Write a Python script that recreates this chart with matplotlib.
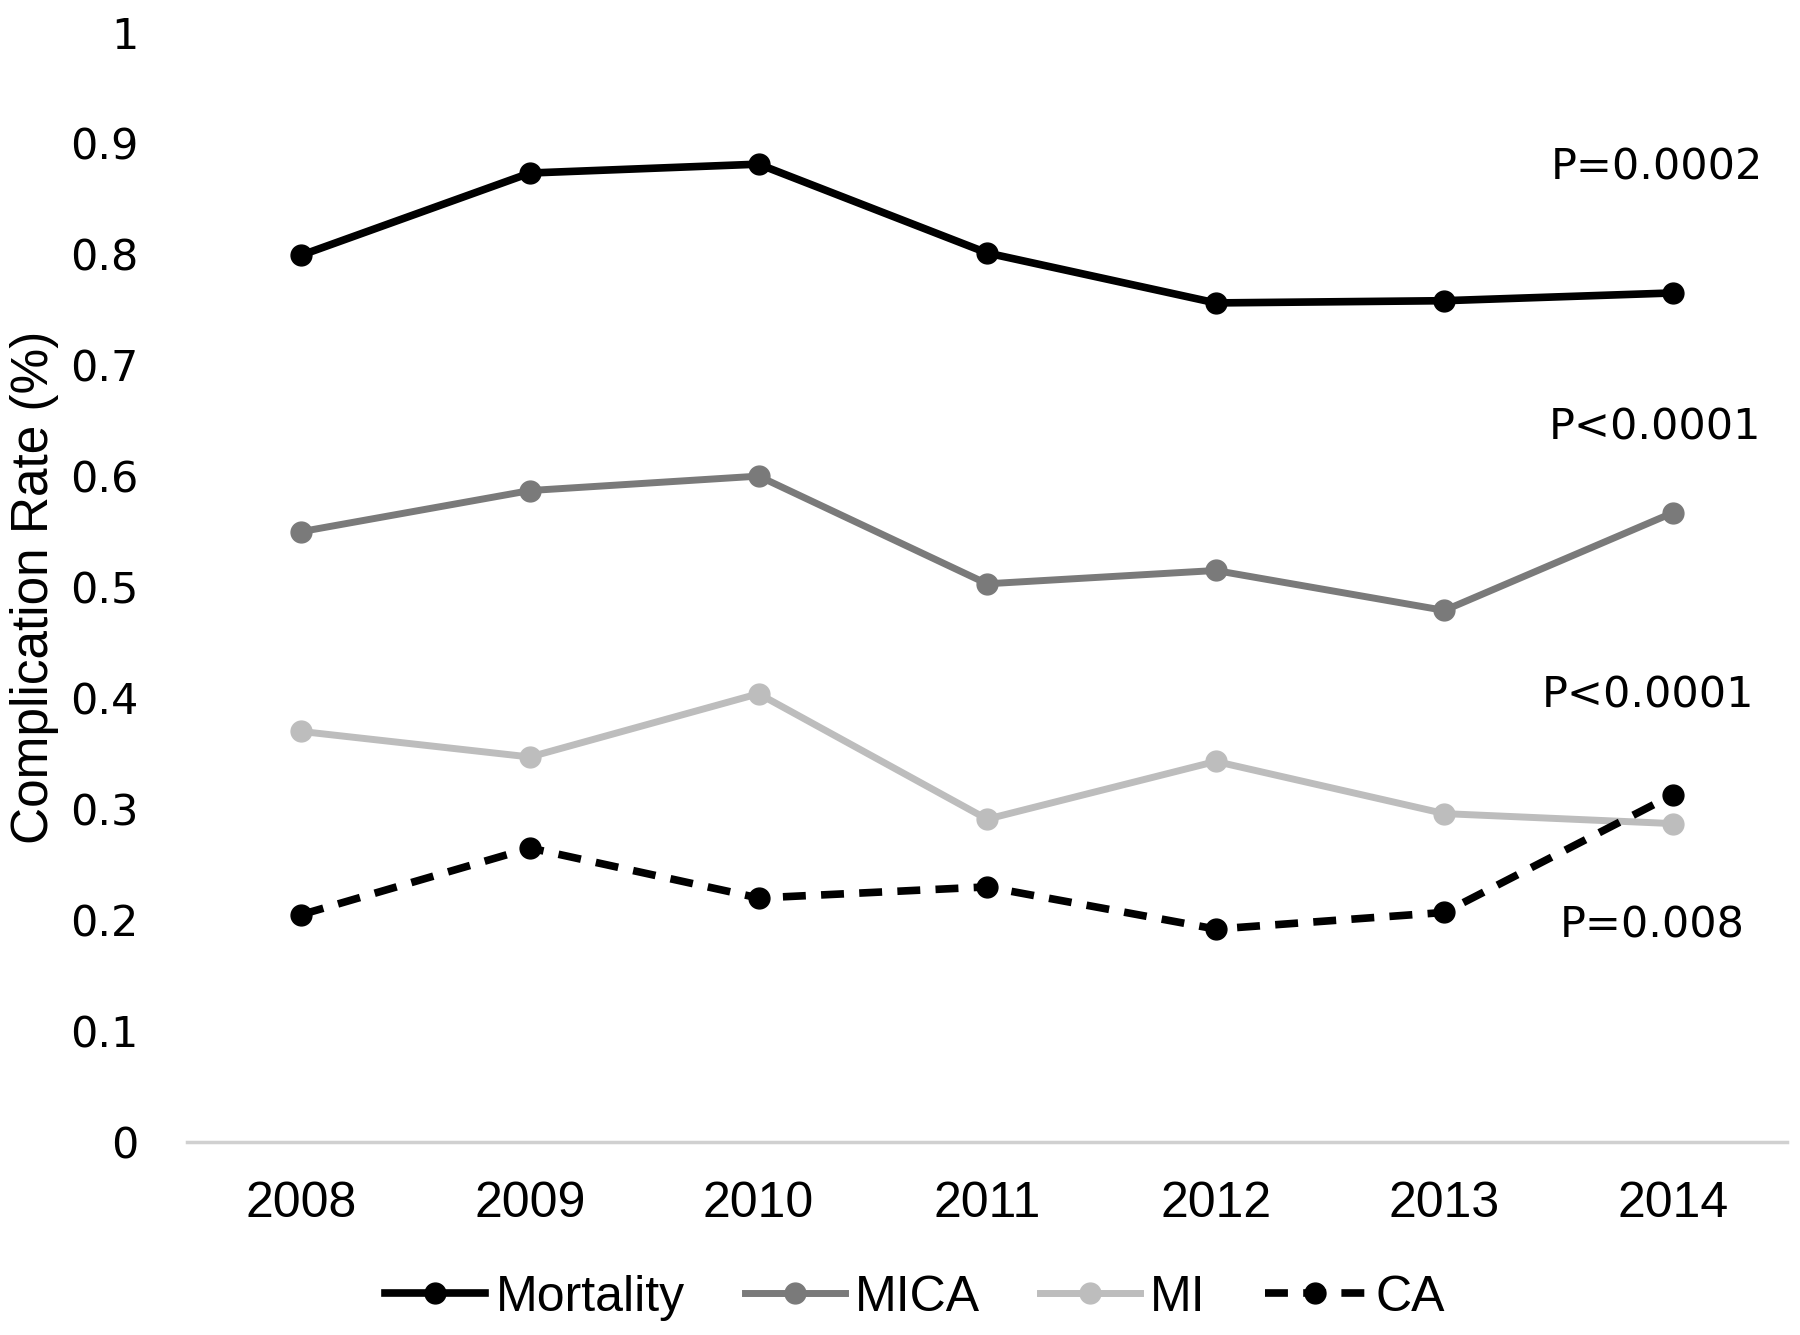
import matplotlib
matplotlib.use("Agg")
import matplotlib.pyplot as plt
from matplotlib import font_manager

years = ['2008', '2009', '2010', '2011', '2012', '2013', '2014']
mortality = [0.799, 0.873, 0.881, 0.801, 0.756, 0.758, 0.765]
mica = [0.550, 0.587, 0.600, 0.503, 0.515, 0.479, 0.567]
mi = [0.370, 0.347, 0.404, 0.291, 0.343, 0.296, 0.287]
ca = [0.205, 0.265, 0.220, 0.230, 0.192, 0.207, 0.313]

p_labels = ['P=0.0002', 'P<0.0001', 'P<0.0001', 'P=0.008']
p_y = [0.878, 0.644, 0.402, 0.195]
p_x = [5.93, 5.92, 5.89, 5.91]

names = [f.name for f in font_manager.fontManager.ttflist]
narrow = 'Liberation Sans Narrow' if 'Liberation Sans Narrow' in names else 'Liberation Sans'
wide = 'DejaVu Sans'

fig = plt.figure(figsize=(18, 13.35), dpi=100)
ax = fig.add_axes([0.1039, 0.1444, 0.889, 0.8316])

x = list(range(len(years)))
ax.plot(x, mortality, color='black', lw=5.5, marker='o', ms=15, label='Mortality')
ax.plot(x, mica, color='#7a7a7a', lw=5, marker='o', ms=15, label='MICA')
ax.plot(x, mi, color='#bdbdbd', lw=5, marker='o', ms=15, label='MI')
ax.plot(x, ca, color='black', lw=5.5, ls=(0, (3, 2)), marker='o', ms=15, label='CA')

for lab, px, py in zip(p_labels, p_x, p_y):
    ax.text(px, py, lab, fontsize=31, family=wide, ha='center', va='center')

ax.set_xlim(-0.5, 6.5)
ax.set_ylim(0, 1)
ax.set_xticks(x)
ax.set_xticklabels(years, fontsize=36, family=narrow)
ax.set_yticks([i / 10 for i in range(11)])
ax.set_yticklabels(['0', '0.1', '0.2', '0.3', '0.4', '0.5', '0.6', '0.7', '0.8', '0.9', '1'],
                   fontsize=31, family=wide)
ax.tick_params(length=0)
ax.tick_params(axis='x', pad=28)
ax.tick_params(axis='y', pad=35)
for s in ['top', 'right', 'left']:
    ax.spines[s].set_visible(False)
ax.spines['bottom'].set_color('#d0d0d0')
ax.spines['bottom'].set_linewidth(2.5)
ax.set_ylabel('Complication Rate (%)', fontsize=37, family=narrow)
ax.yaxis.set_label_coords(-0.08, 0.5)

leg = ax.legend(loc='center', bbox_to_anchor=(0.455, -0.14), ncol=4, frameon=False,
                prop={'family': narrow, 'size': 36}, handlelength=2.0, columnspacing=1.2,
                handletextpad=0.2)

fig.savefig('out.png')
